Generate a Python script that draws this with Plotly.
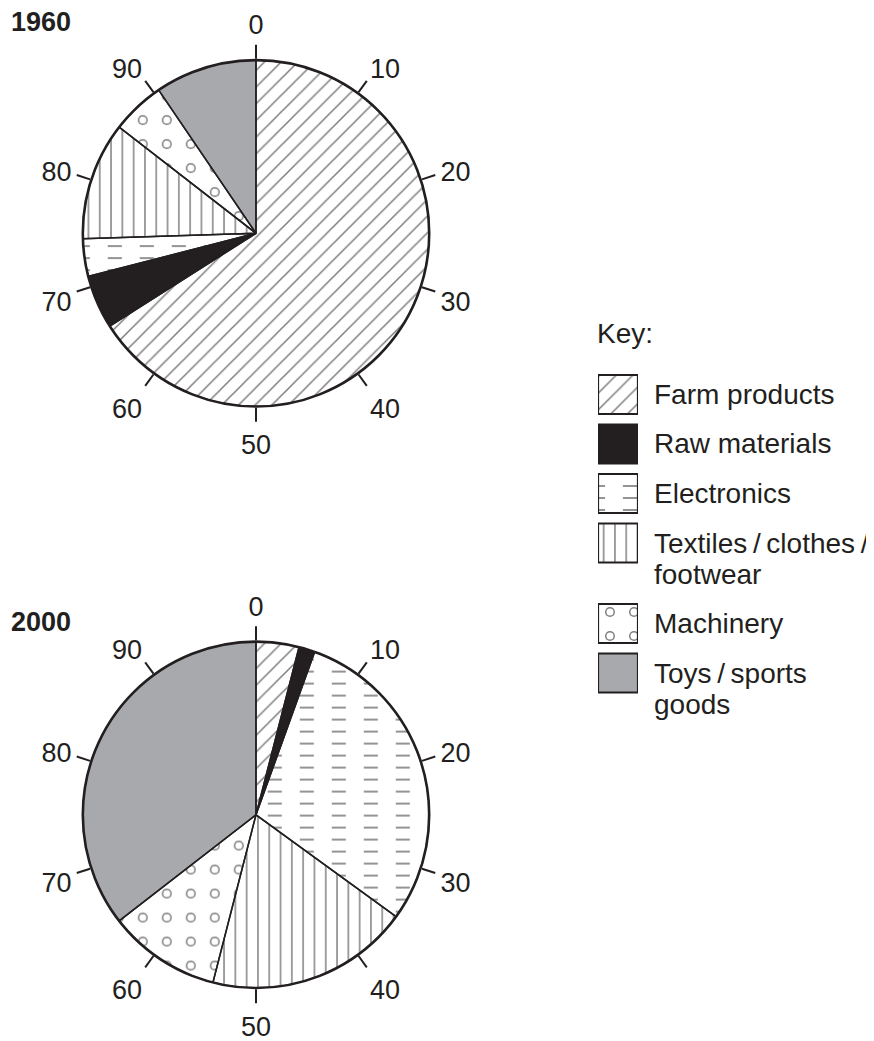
import plotly.graph_objects as go

# ---------------- data ----------------
categories = [
    "Farm products",
    "Raw materials",
    "Electronics",
    "Textiles\u2009/\u2009clothes\u2009/\nfootwear",
    "Machinery",
    "Toys\u2009/\u2009sports\ngoods",
]
years = ["1960", "2000"]
share_1960 = [66, 5, 3.5, 11, 5, 9.5]
share_2000 = [4, 1.5, 29.5, 19, 10.5, 35.5]
tick_values = [0, 10, 20, 30, 40, 50, 60, 70, 80, 90]
tick_labels = ["0", "10", "20", "30", "40", "50", "60", "70", "80", "90"]

# ---------------- styling ----------------
OFF = 8                      # page body margin of the html page
W, H = 874 - OFF, 1041 - OFF
FONT = "Liberation Sans, Arial, Helvetica, sans-serif"
INK = "#231f20"
HATCH = "#000000"
GRAY = "#a7a9ac"
CLEAR = "rgba(0,0,0,0)"

base_style = [
    dict(color="white", shape="/", size=11.8, solidity=0.13),
    dict(color=INK, shape=""),
    dict(color="white", shape="-", size=12, solidity=0.14),
    dict(color="white", shape="|", size=11.3, solidity=0.13),
    dict(color="white", shape=".", size=24, solidity=0.138),
    dict(color=GRAY, shape=""),
]
# white overlays turning lines into dashes and dots into rings
overlay_style = {
    2: dict(shape="|", size=32, solidity=0.56),
    4: dict(shape=".", size=24, solidity=0.068),
}


def pattern(st):
    if not st.get("shape"):
        return dict(shape="")
    return dict(shape=st["shape"], size=st["size"], solidity=st["solidity"],
                fgcolor=HATCH, bgcolor=st["color"], fillmode="overlay")


def overlay_pattern(ov):
    return dict(shape=ov["shape"], size=ov["size"], solidity=ov["solidity"],
                fgcolor="white", fillmode="replace")


def px_x(v):
    return (v - OFF) / W


def px_y(v):
    return 1 - (v - OFF) / H


fig = go.Figure()

# ---------------- pies as barpolar ----------------
pie_centers = [(256, 233.3), (256, 814.8)]
R = 173.2
shares = [share_1960, share_2000]

for k, (vals, (cx, cy)) in enumerate(zip(shares, pie_centers)):
    pid = "polar" if k == 0 else "polar2"
    starts = [sum(vals[:i]) for i in range(len(vals))]
    thetas = [(s + v / 2) * 3.6 for s, v in zip(starts, vals)]
    widths = [v * 3.6 for v in vals]
    for i in range(len(vals)):
        st = base_style[i]
        fig.add_trace(go.Barpolar(
            r=[1], theta=[thetas[i]], width=[widths[i]], subplot=pid,
            marker=dict(color=st["color"], line=dict(width=0),
                        pattern=pattern(st)),
            showlegend=False, hoverinfo="skip"))
    for i, ov in overlay_style.items():
        fig.add_trace(go.Barpolar(
            r=[1], theta=[thetas[i]], width=[widths[i]], subplot=pid,
            marker=dict(color="white", line=dict(width=0),
                        pattern=overlay_pattern(ov)),
            showlegend=False, hoverinfo="skip"))
    fig.add_trace(go.Barpolar(
        r=[1] * len(vals), theta=thetas, width=widths, subplot=pid,
        marker=dict(color=CLEAR, line=dict(width=1.5, color=INK)),
        showlegend=False, hoverinfo="skip"))

    polar_layout = dict(
        domain=dict(x=[px_x(cx - R), px_x(cx + R)], y=[px_y(cy + R), px_y(cy - R)]),
        bgcolor="white",
        barmode="overlay",
        radialaxis=dict(visible=False, range=[0, 1]),
        angularaxis=dict(
            rotation=90, direction="clockwise", thetaunit="degrees",
            tickmode="array", tickvals=[v * 3.6 for v in tick_values], ticktext=tick_labels,
            ticks="outside", ticklen=14, tickwidth=2, tickcolor=INK,
            showline=True, linecolor=INK, linewidth=2.6, showgrid=False,
            tickfont=dict(family=FONT, size=27, color=INK), layer="above traces"),
    )
    fig.update_layout(**{pid: polar_layout})

    fig.add_annotation(text="<b>%s</b>" % years[k], xref="paper", yref="paper",
                       x=px_x(10), y=px_y(22 if k == 0 else 622), xanchor="left",
                       yanchor="middle", showarrow=False, borderpad=0,
                       font=dict(family=FONT, size=27, color=INK))

# ---------------- key (legend) ----------------
LEG_TOP, LEG_BOT = 360, 720
SW = 39
LINE_H = 31
centers = []
y = 394.5
for i, name in enumerate(categories):
    centers.append(y)
    y += 49.5 + LINE_H * (name.count("\n"))

for i in range(len(categories)):
    st = base_style[i]
    fig.add_trace(go.Bar(
        x=[1], y=[centers[i]], base=0, width=[SW], orientation="h",
        xaxis="x", yaxis="y",
        marker=dict(color=st["color"], line=dict(width=0), pattern=pattern(st)),
        showlegend=False, hoverinfo="skip"))
for i, ov in overlay_style.items():
    fig.add_trace(go.Bar(
        x=[1], y=[centers[i]], base=0, width=[SW], orientation="h",
        xaxis="x", yaxis="y",
        marker=dict(color="white", line=dict(width=0), pattern=overlay_pattern(ov)),
        showlegend=False, hoverinfo="skip"))
fig.add_trace(go.Bar(
    x=[1] * len(categories), y=centers, base=0, width=[SW] * len(categories),
    orientation="h", xaxis="x", yaxis="y",
    marker=dict(color=CLEAR, line=dict(width=2.2, color=INK)),
    showlegend=False, hoverinfo="skip"))

for i, name in enumerate(categories):
    for j, line in enumerate(name.split("\n")):
        fig.add_annotation(text=line, xref="paper", yref="paper",
                           x=px_x(652), y=px_y(centers[i] + j * LINE_H),
                           xanchor="left", yanchor="middle", showarrow=False,
                           font=dict(family=FONT, size=28, color=INK))

fig.add_annotation(text="Key:", xref="paper", yref="paper", x=px_x(595), y=px_y(333),
                   xanchor="left", yanchor="middle", showarrow=False,
                   font=dict(family=FONT, size=28, color=INK))

fig.update_layout(
    width=W, height=H,
    margin=dict(l=0, r=0, t=0, b=0),
    paper_bgcolor="white", plot_bgcolor="rgba(0,0,0,0)",
    barmode="overlay",
    showlegend=False,
    xaxis=dict(domain=[px_x(598), px_x(598 + 40)], range=[0, 1], visible=False,
               fixedrange=True),
    yaxis=dict(domain=[px_y(LEG_BOT), px_y(LEG_TOP)], range=[LEG_BOT, LEG_TOP],
               visible=False, fixedrange=True),
)

fig.write_html("out.html")
